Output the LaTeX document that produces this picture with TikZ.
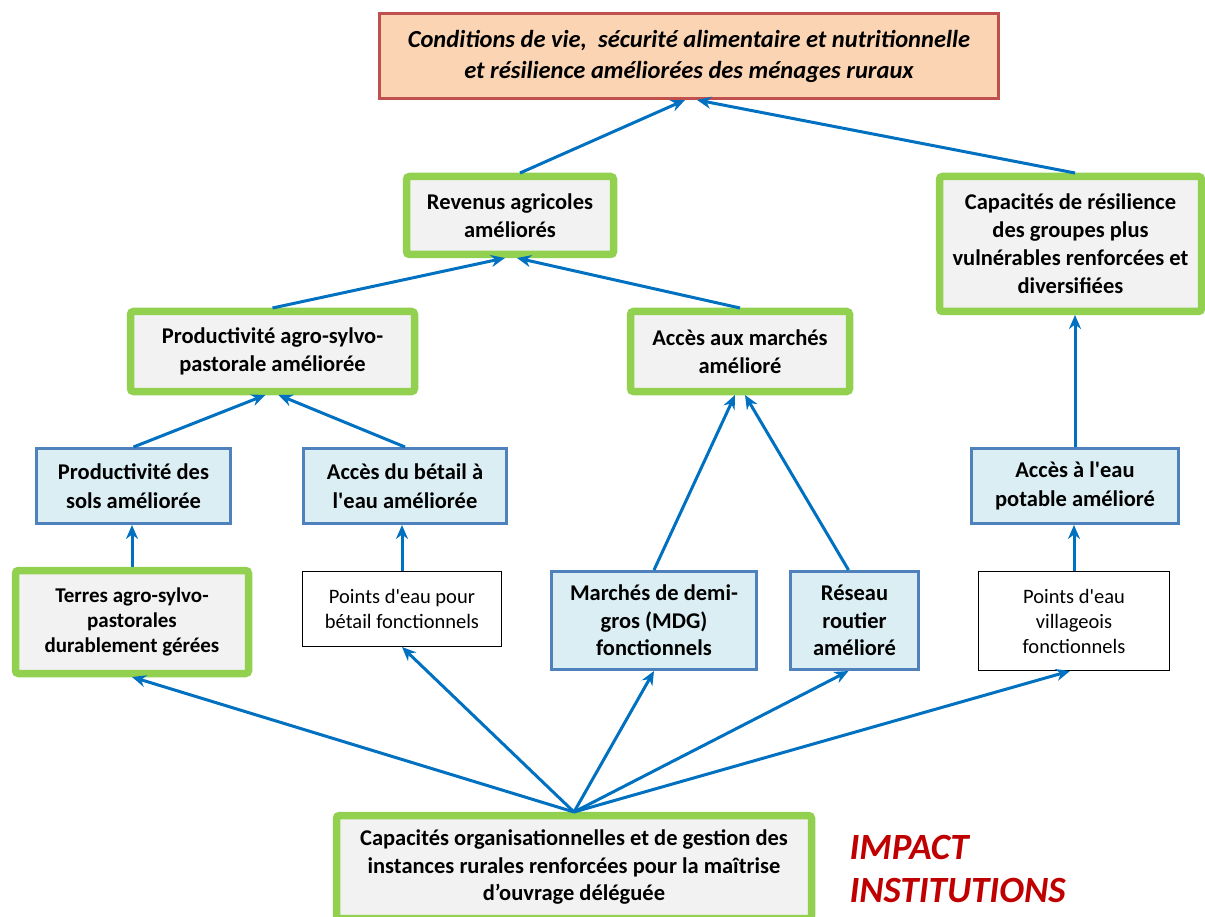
\documentclass[tikz,border=0pt]{standalone}
\usepackage{fontspec}
\setmainfont{Carlito}
\usetikzlibrary{arrows.meta}
\definecolor{vert}{HTML}{92D050}
\definecolor{grisclair}{HTML}{F2F2F2}
\definecolor{bleucadre}{HTML}{4F81BD}
\definecolor{bleuclair}{HTML}{DBEEF4}
\definecolor{rougecadre}{HTML}{C0504D}
\definecolor{peche}{HTML}{FBD4B4}
\definecolor{bleufleche}{HTML}{0070C0}
\definecolor{rougeimpact}{HTML}{C00000}
\tikzset{
  effet/.style={draw=vert, line width=7.5pt, fill=grisclair, rounded corners=3pt,
    align=center, inner sep=0pt, outer sep=3.5pt,
    font=\bfseries\fontsize{22.5}{28}\selectfont},
  resultat/.style={draw=bleucadre, line width=3pt, fill=bleuclair,
    align=center, inner sep=0pt, outer sep=1.5pt,
    font=\bfseries\fontsize{22.5}{29}\selectfont},
  produit/.style={draw=black, line width=1pt, fill=white,
    align=center, inner sep=0pt, outer sep=0.5pt,
    font=\fontsize{20.5}{24.5}\selectfont},
  fleche/.style={->, draw=bleufleche, line width=3pt},
}
\begin{document}
\begin{tikzpicture}[x=1pt, y=-1pt, >={Stealth[length=14pt,width=12pt]}]
    \useasboundingbox (0,0) rectangle (1205,917);
    % niveau impact
    \node (impact) [draw=rougecadre, line width=3pt, fill=peche, align=center, inner sep=0pt,
        outer sep=1.5pt, minimum width=619pt, minimum height=85pt,
        font=\bfseries\itshape\fontsize{24.5}{31}\selectfont] at (689,56)
        {Conditions de vie,\ \ sécurité alimentaire et nutritionnelle\\et résilience améliorées des ménages ruraux};
    % effets
    \node (revenus) [effet, minimum width=207pt, minimum height=78pt] at (510,215.5)
        {Revenus agricoles\\améliorés};
    \node (resil) [effet, minimum width=262pt, minimum height=135pt] at (1070.5,244)
        {Capacités de résilience\\des groupes plus\\vulnérables renforcées et\\diversifiées};
    \node (prod) [effet, minimum width=284pt, minimum height=80pt] at (272.5,351.5)
        {Productivité agro-sylvo-\\pastorale améliorée};
    \node (marches) [effet, minimum width=219pt, minimum height=80pt] at (740,351.5)
        {Accès aux marchés\\amélioré};
    % resultats
    \node (sols) [resultat, minimum width=194pt, minimum height=75pt] at (133.5,486)
        {Productivité des\\sols améliorée};
    \node (betail) [resultat, minimum width=203pt, minimum height=75pt] at (405,486)
        {Accès du bétail à\\l\textquotesingle eau améliorée};
    \node (potable) [resultat, minimum width=207pt, minimum height=75pt] at (1075,486)
        {Accès à l\textquotesingle eau\\potable amélioré};
    % produits
    \node (terres) [effet, minimum width=233pt, minimum height=103pt,
        font=\bfseries\fontsize{21}{25}\selectfont] at (132,622)
        {Terres agro-sylvo-\\pastorales\\durablement gérées};
    \node (pbetail) [produit, minimum width=199pt, minimum height=75pt] at (402,609)
        {Points d\textquotesingle eau pour\\bétail fonctionnels};
    \node (mdg) [resultat, minimum width=205pt, minimum height=98pt,
        font=\bfseries\fontsize{22.5}{27.5}\selectfont] at (654,620.5)
        {Marchés de demi-\\gros (MDG)\\fonctionnels};
    \node (reseau) [resultat, minimum width=128pt, minimum height=98pt,
        font=\bfseries\fontsize{22.5}{27.5}\selectfont] at (854.5,620.5)
        {Réseau\\routier\\amélioré};
    \node (village) [produit, minimum width=191pt, minimum height=99pt,
        font=\fontsize{20.5}{25}\selectfont] at (1074,621)
        {Points d\textquotesingle eau\\villageois\\fonctionnels};
    % capacites
    \node (base) [effet, minimum width=475pt, minimum height=103pt,
        font=\bfseries\fontsize{22.5}{27.5}\selectfont] at (574,867)
        {Capacités organisationnelles et de gestion des\\instances rurales renforcées pour la maîtrise\\d’ouvrage déléguée};
    \node (titre) [anchor=west, align=left, text=rougeimpact,
        font=\bfseries\itshape\fontsize{37}{43}\selectfont] at (846,868.5)
        {IMPACT\\INSTITUTIONS};
    % fleches
    \draw[fleche] ([xshift=10pt]revenus.north) -- ([xshift=-4pt]impact.south);
    \draw[fleche] ([xshift=4.5pt]resil.north) -- ([xshift=8pt]impact.south);
    \draw[fleche] (prod.north) -- ([xshift=-5pt]revenus.south);
    \draw[fleche] (marches.north) -- ([xshift=7pt]revenus.south);
    \draw[fleche] (sols.north) -- ([xshift=-7pt]prod.south);
    \draw[fleche] (betail.north) -- ([xshift=6pt]prod.south);
    \draw[fleche] (mdg.north) -- ([xshift=-5pt]marches.south);
    \draw[fleche] ([xshift=-6pt]reseau.north) -- ([xshift=5pt]marches.south);
    \draw[fleche] (potable.north) -- (potable.north |- resil.south);
    \draw[fleche] (terres.north) -- (terres.north |- sols.south);
    \draw[fleche] (pbetail.north) -- (pbetail.north |- betail.south);
    \draw[fleche] (village.north) -- (village.north |- potable.south);
    \draw[fleche] (base.north) -- (terres.south);
    \draw[fleche] (base.north) -- (pbetail.south);
    \draw[fleche] (base.north) -- (mdg.south);
    \draw[fleche] (base.north) -- ([xshift=-6pt]reseau.south);
    \draw[fleche] (base.north) -- ([xshift=-4pt]village.south);
\end{tikzpicture}
\end{document}
